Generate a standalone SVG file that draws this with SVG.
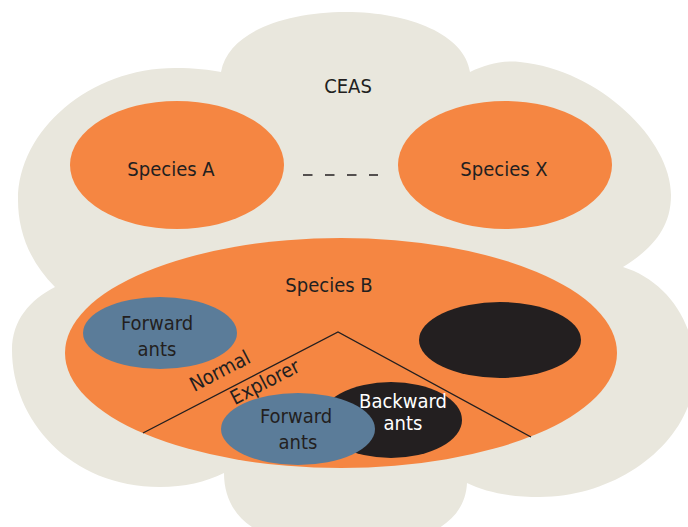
<svg xmlns="http://www.w3.org/2000/svg" width="688" height="527" viewBox="0 0 688 527">
<style>
.lbl{font-family:"DejaVu Sans","Liberation Sans",sans-serif;font-stretch:condensed;font-size:20px;fill:#231f20;text-anchor:middle}
.wht{fill:#ffffff}
.orange{fill:#f58642}
.blue{fill:#5b7c99}
.dark{fill:#231f20}
.conn{stroke:#231f20;stroke-width:1.4;fill:none}
</style>
<rect width="688" height="527" fill="#ffffff"/>
<g id="ceas">
<path fill="#e9e7dd" d="M221,72 C228,32 285,12 346,12 C410,12 465,35 470,72 C485,65 500,60 520,62 C600,70 671,140 671,195 C671,230 650,250 623,267 C665,280 695,320 695,370 C695,440 620,497 540,497 C510,497 485,492 467,483 C465,530 410,548 345,548 C280,548 224,530 224,473 C205,482 185,487 160,487 C70,487 12,420 12,350 C12,320 30,300 55,287 C30,262 18,232 18,200 C18,130 90,68 175,68 C195,68 210,70 221,72 Z"/>
<text class="lbl" x="348" y="93">CEAS</text>
</g>
<g id="speciesA">
<ellipse class="orange" cx="177" cy="165" rx="107" ry="64"/>
<text class="lbl" x="171" y="176">Species A</text>
</g>
<g id="speciesX">
<ellipse class="orange" cx="505" cy="165" rx="107" ry="64"/>
<text class="lbl" x="504" y="176">Species X</text>
</g>
<g id="speciesB">
<ellipse class="orange" cx="341" cy="353" rx="276" ry="115"/>
<text class="lbl" x="329" y="292">Species B</text>
</g>
<g id="forwardNormal">
<ellipse class="blue" cx="160" cy="333" rx="77" ry="36"/>
<text class="lbl" x="157" y="330">Forward</text>
<text class="lbl" x="157" y="356">ants</text>
</g>
<g id="backwardNormal">
<ellipse class="dark" cx="500" cy="340" rx="81" ry="38"/>
</g>
<g id="connectors">
<polyline class="conn" points="143,433 338,332 531,437"/>
<line class="conn" x1="303" y1="175" x2="378" y2="175" stroke-dasharray="9.5 12.5"/>
</g>
<g id="modes">
<text class="lbl" transform="translate(223,377) rotate(-27.5)">Normal</text>
<text class="lbl" transform="translate(268,388) rotate(-27.5)">Explorer</text>
</g>
<g id="backwardExplorer">
<ellipse class="dark" cx="391" cy="420" rx="71" ry="38"/>
</g>
<g id="forwardExplorer">
<ellipse class="blue" cx="298" cy="429" rx="77" ry="36"/>
<text class="lbl" x="296" y="423">Forward</text>
<text class="lbl" x="298" y="449">ants</text>
</g>
<g id="backwardExplorerLabel">
<text class="lbl wht" x="403" y="408">Backward</text>
<text class="lbl wht" x="403" y="430">ants</text>
</g>
</svg>
